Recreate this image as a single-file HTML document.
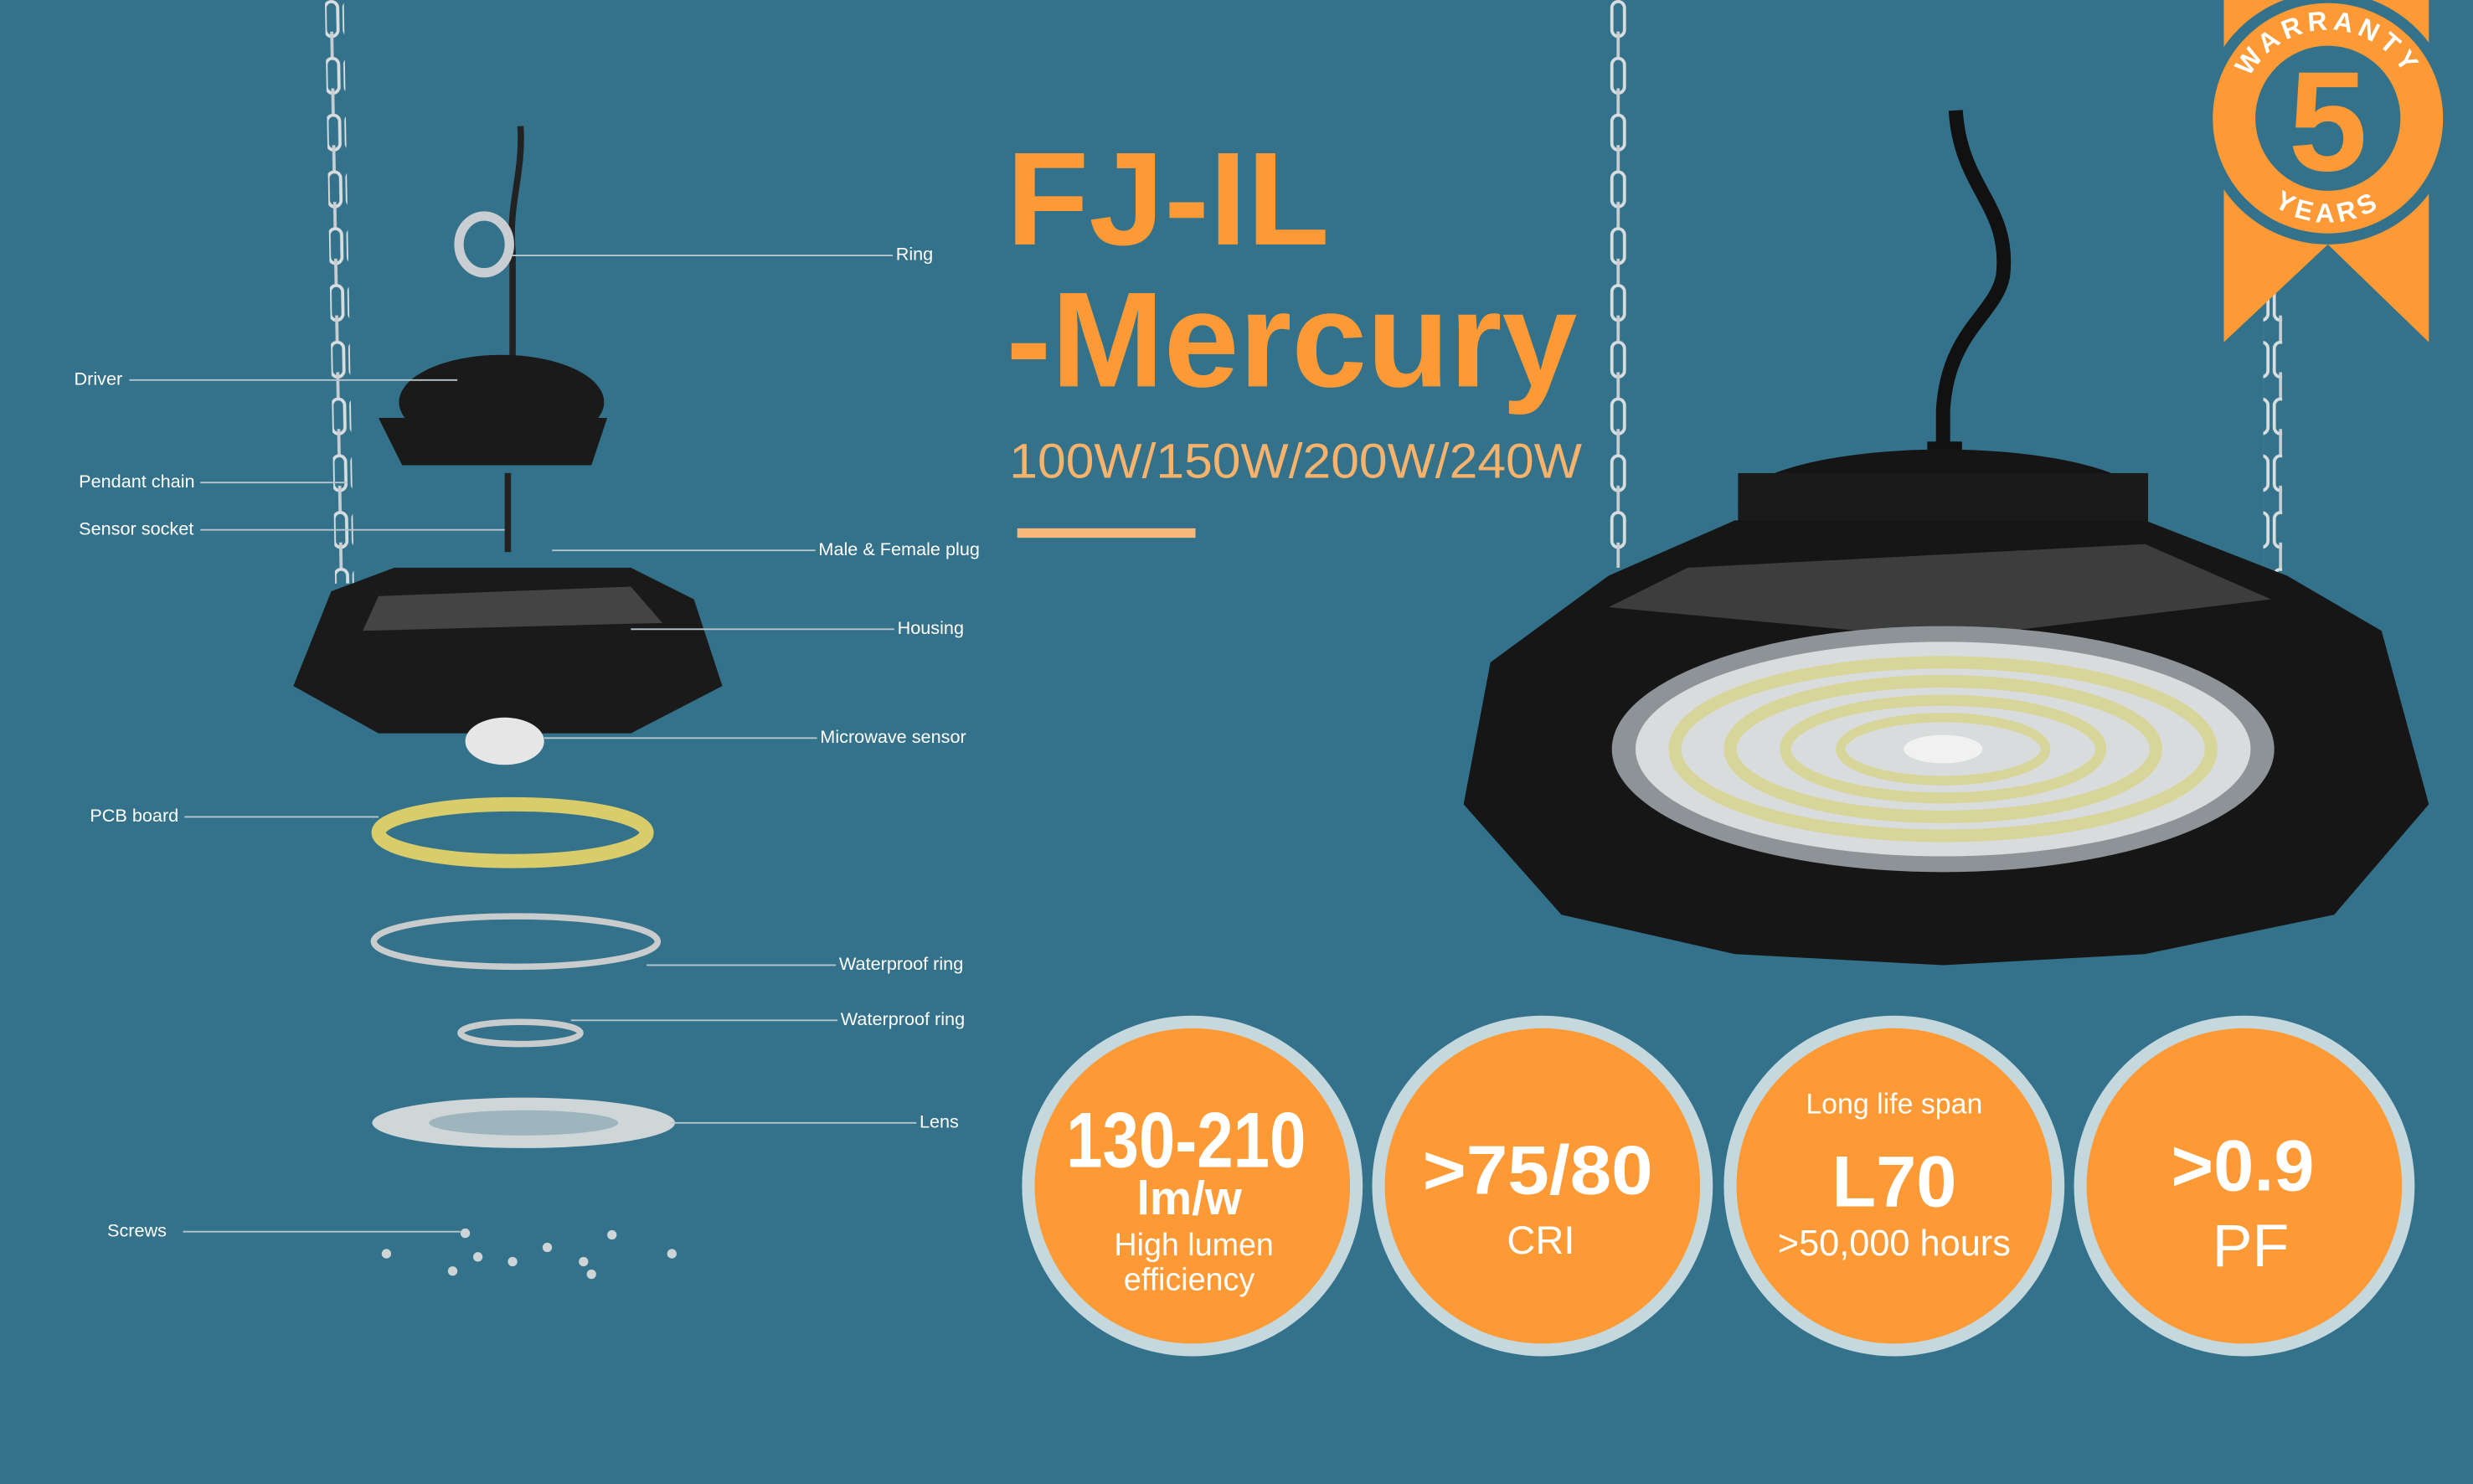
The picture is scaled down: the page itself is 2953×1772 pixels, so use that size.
<!DOCTYPE html>
<html><head><meta charset="utf-8"><style>
html,body{margin:0;padding:0;background:#33728a;}
svg{display:block}
text{font-family:"Liberation Sans",sans-serif}
</style></head><body>
<svg width="2953" height="1772" viewBox="0 0 1568 941" preserveAspectRatio="none" xmlns="http://www.w3.org/2000/svg">
<rect width="1568" height="941" fill="#33728a"/>
<defs>
<pattern id="ch" width="12" height="36" patternUnits="userSpaceOnUse">
<rect x="2" y="1" width="8" height="22" rx="4" fill="none" stroke="#d8dde0" stroke-width="2"/>
<line x1="6" y1="20" x2="6" y2="38" stroke="#c8ced2" stroke-width="2"/>
</pattern>
</defs>
<rect x="206" y="0" width="12" height="370" fill="url(#ch)" transform="rotate(-1 212 0)"/>
<rect x="1020" y="0" width="12" height="360" fill="url(#ch)"/>
<rect x="1435" y="0" width="12" height="370" fill="url(#ch)"/>

<polygon points="1410,0 1540,0 1540,217 1476,155 1410,217" fill="#fd9a35"/>
<circle cx="1476" cy="75" r="80" fill="#33728a"/>
<circle cx="1476" cy="75" r="73" fill="#fd9a35"/>
<circle cx="1476" cy="75" r="46" fill="#33728a"/>
<text x="1476" y="108" font-size="90" font-weight="bold" fill="#fd9a35" text-anchor="middle">5</text>
<path id="arcT" d="M1420,75 A56,56 0 0 1 1532,75" fill="none"/>
<text font-size="17" font-weight="bold" fill="#fff" letter-spacing="3"><textPath href="#arcT" startOffset="50%" text-anchor="middle">WARRANTY</textPath></text>
<path id="arcB" d="M1415,80 A61,61 0 0 0 1537,80" fill="none"/>
<text font-size="17" font-weight="bold" fill="#fff" letter-spacing="3"><textPath href="#arcB" startOffset="50%" text-anchor="middle">YEARS</textPath></text>

<text x="638" y="155" font-size="84" font-weight="bold" fill="#fd9a35" textLength="205" lengthAdjust="spacingAndGlyphs">FJ-IL</text>
<text x="638" y="245" font-size="86" font-weight="bold" fill="#fd9a35" textLength="362" lengthAdjust="spacingAndGlyphs">-Mercury</text>
<text x="640" y="303" font-size="31" fill="#f7b26b" textLength="363" lengthAdjust="spacingAndGlyphs">100W/150W/200W/240W</text>
<rect x="645" y="335" width="113" height="6" fill="#f9b97a"/>

<path d="M1240,70 C1243,120 1275,130 1270,175 C1265,200 1235,210 1232,260 L1232,290" stroke="#111" stroke-width="9" fill="none"/>
<rect x="1222" y="280" width="22" height="20" fill="#111"/>
<ellipse cx="1232" cy="320" rx="130" ry="35" fill="#151515"/>
<rect x="1102" y="300" width="260" height="40" fill="#1a1a1a"/>
<polygon points="1020,365 1100,330 1360,330 1450,365 1510,400 1540,510 1480,580 1360,605 1232,612 1100,605 990,580 928,510 945,420" fill="#161616"/>
<polygon points="1070,360 1360,345 1440,380 1232,405 1020,385" fill="#3d3d3d"/>
<ellipse cx="1232" cy="475" rx="210" ry="78" fill="#8d9396"/>
<ellipse cx="1232" cy="475" rx="195" ry="68" fill="#d9dcdc"/>
<ellipse cx="1232" cy="475" rx="170" ry="55" fill="none" stroke="#d8d59a" stroke-width="8"/>
<ellipse cx="1232" cy="475" rx="135" ry="43" fill="none" stroke="#d8d59a" stroke-width="8"/>
<ellipse cx="1232" cy="475" rx="100" ry="31" fill="none" stroke="#d8d59a" stroke-width="7"/>
<ellipse cx="1232" cy="475" rx="65" ry="20" fill="none" stroke="#d8d59a" stroke-width="6"/>
<ellipse cx="1232" cy="475" rx="25" ry="9" fill="#f1f1f1"/>

<path d="M330,80 C332,110 322,130 325,160 L325,230" stroke="#222" stroke-width="4" fill="none"/>
<ellipse cx="307" cy="155" rx="16" ry="18" fill="none" stroke="#c9ced2" stroke-width="6"/>
<ellipse cx="318" cy="255" rx="65" ry="30" fill="#1a1a1a"/>
<polygon points="240,265 385,265 375,295 255,295" fill="#1a1a1a"/>
<line x1="322" y1="300" x2="322" y2="350" stroke="#222" stroke-width="4"/>
<polygon points="210,375 250,360 400,360 440,380 458,435 400,465 240,465 186,435" fill="#1a1a1a"/>
<polygon points="240,378 400,372 420,395 230,400" fill="#444"/>
<ellipse cx="320" cy="470" rx="25" ry="15" fill="#e6e6e6"/>
<ellipse cx="325" cy="528" rx="85" ry="18" fill="none" stroke="#d9cc6a" stroke-width="9"/>
<ellipse cx="327" cy="597" rx="90" ry="16" fill="none" stroke="#c9cccc" stroke-width="4"/>
<ellipse cx="330" cy="655" rx="38" ry="7" fill="none" stroke="#c9cccc" stroke-width="4"/>
<ellipse cx="332" cy="712" rx="96" ry="16" fill="#cfd6d8"/>
<ellipse cx="332" cy="712" rx="60" ry="8" fill="#9eb5bd"/>
<g fill="#cfd4d6"><circle cx="245" cy="795" r="3"/><circle cx="295" cy="782" r="3"/><circle cx="303" cy="797" r="3"/><circle cx="287" cy="806" r="3"/><circle cx="325" cy="800" r="3"/><circle cx="347" cy="791" r="3"/><circle cx="370" cy="800" r="3"/><circle cx="375" cy="808" r="3"/><circle cx="388" cy="783" r="3"/><circle cx="426" cy="795" r="3"/></g>

<g stroke="#b7c6cc" stroke-width="1">
<line x1="325" y1="162" x2="566" y2="162"/>
<line x1="82" y1="241" x2="290" y2="241"/>
<line x1="127" y1="306" x2="220" y2="306"/>
<line x1="127" y1="336" x2="320" y2="336"/>
<line x1="350" y1="349" x2="517" y2="349"/>
<line x1="400" y1="399" x2="567" y2="399"/>
<line x1="345" y1="468" x2="518" y2="468"/>
<line x1="117" y1="518" x2="240" y2="518"/>
<line x1="410" y1="612" x2="530" y2="612"/>
<line x1="362" y1="647" x2="531" y2="647"/>
<line x1="425" y1="712" x2="581" y2="712"/>
<line x1="116" y1="781" x2="292" y2="781"/>
</g>
<g font-size="11.5" fill="#fff">
<text x="568" y="165">Ring</text>
<text x="47" y="244">Driver</text>
<text x="50" y="309">Pendant chain</text>
<text x="50" y="339">Sensor socket</text>
<text x="519" y="352">Male &amp; Female plug</text>
<text x="569" y="402">Housing</text>
<text x="520" y="471">Microwave sensor</text>
<text x="57" y="521">PCB board</text>
<text x="532" y="615">Waterproof  ring</text>
<text x="533" y="650">Waterproof  ring</text>
<text x="583" y="715">Lens</text>
<text x="68" y="784">Screws</text>
</g>

<g>
<circle cx="756" cy="752" r="108" fill="#c4d8de"/><circle cx="756" cy="752" r="100" fill="#fd9a35"/>
<circle cx="978" cy="752" r="108" fill="#c4d8de"/><circle cx="978" cy="752" r="100" fill="#fd9a35"/>
<circle cx="1201" cy="752" r="108" fill="#c4d8de"/><circle cx="1201" cy="752" r="100" fill="#fd9a35"/>
<circle cx="1423" cy="752" r="108" fill="#c4d8de"/><circle cx="1423" cy="752" r="100" fill="#fd9a35"/>
</g>
<g fill="#fff" text-anchor="middle">
<text x="752" y="740" font-size="50" font-weight="bold" textLength="152" lengthAdjust="spacingAndGlyphs">130-210</text>
<text x="754" y="770" font-size="30" font-weight="bold">lm/w</text>
<text x="757" y="796" font-size="20">High lumen</text>
<text x="754" y="818" font-size="20">efficiency</text>
<text x="975" y="757" font-size="44" font-weight="bold" textLength="146" lengthAdjust="spacingAndGlyphs">&gt;75/80</text>
<text x="977" y="795" font-size="25">CRI</text>
<text x="1201" y="706" font-size="18">Long life span</text>
<text x="1201" y="765" font-size="46" font-weight="bold">L70</text>
<text x="1201" y="796" font-size="23">&gt;50,000 hours</text>
<text x="1422" y="755" font-size="46" font-weight="bold">&gt;0.9</text>
<text x="1427" y="803" font-size="38">PF</text>
</g>
</svg>
</body></html>
